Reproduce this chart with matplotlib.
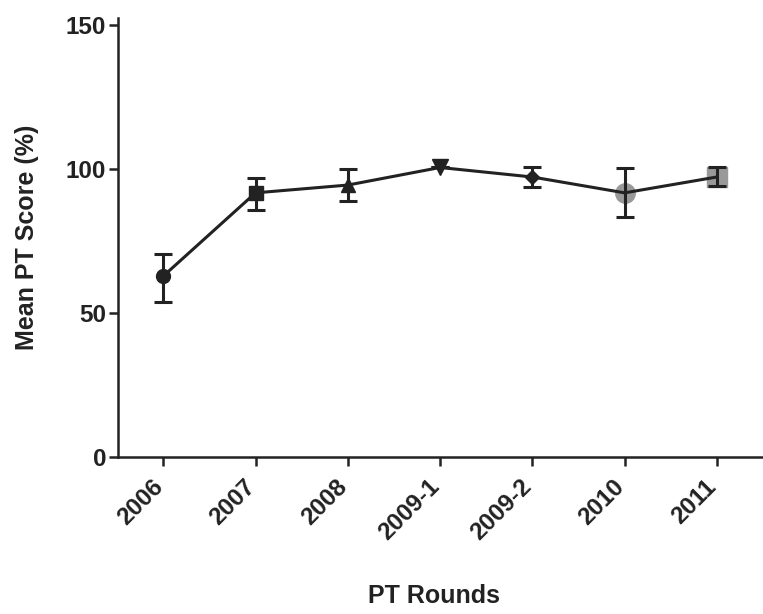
import numpy as np
import matplotlib
matplotlib.use('Agg')
import matplotlib.pyplot as plt
import matplotlib.transforms as mtransforms

plt.rcParams['font.family'] = ['Liberation Sans', 'DejaVu Sans']

# data
rounds = ['2006', '2007', '2008', '2009-1', '2009-2', '2010', '2011']
mean_score = [62.8, 91.7, 94.4, 100.5, 97.2, 91.7, 97.2]
err_upper = [70.5, 96.9, 100.0, 100.5, 100.7, 100.3, 100.7]
err_lower = [53.8, 85.8, 88.9, 100.5, 93.8, 83.3, 94.1]
markers = ['o', 's', '^', 'v', 'D', 'o', 's']
marker_colors = ['#222222', '#222222', '#222222', '#222222', '#222222', '#999999', '#999999']
marker_sizes = [10, 10, 10, 11, 7, 14, 14]

ink = '#222222'

fig = plt.figure(figsize=(7.63, 6.14), dpi=100)
ax = fig.add_axes([0.1547, 0.2557, 0.8453, 0.715])

x = np.arange(len(rounds))
mean_arr = np.array(mean_score)
yerr = [mean_arr - np.array(err_lower), np.array(err_upper) - mean_arr]

# markers behind the line and error bars
for i in range(len(rounds)):
    ax.plot(x[i], mean_score[i], marker=markers[i], color=marker_colors[i],
            markersize=marker_sizes[i], linestyle='none', zorder=2)

ax.errorbar(x, mean_score, yerr=yerr, color=ink, linewidth=2.2, elinewidth=2.2,
            capsize=6.8, capthick=2.2, zorder=3)

ax.set_xlim(-0.49, 6.5)
ax.set_ylim(0, 152.4)
ax.set_yticks([0, 50, 100, 150])
ax.set_xticks(x)
ax.set_xticklabels(rounds, rotation=45, ha='right', rotation_mode='anchor')

for side in ['top', 'right']:
    ax.spines[side].set_visible(False)
for side in ['left', 'bottom']:
    ax.spines[side].set_linewidth(1.8)
    ax.spines[side].set_color(ink)

ax.tick_params(axis='both', direction='out', length=6.5, width=1.8, color=ink,
               labelsize=17.5, labelcolor=ink, pad=2)
for lbl in ax.get_xticklabels() + ax.get_yticklabels():
    lbl.set_fontweight('bold')

# nudge rotated labels so they sit down-left of the ticks
shift = mtransforms.ScaledTranslation(-0.12, -0.06, fig.dpi_scale_trans)
for lbl in ax.get_xticklabels():
    lbl.set_transform(lbl.get_transform() + shift)

ax.set_ylabel('Mean PT Score (%)', fontsize=18, fontweight='bold', color=ink, labelpad=19)
fig.text(0.569, 0.029, 'PT Rounds', fontsize=18, fontweight='bold', color=ink,
         ha='center', va='center')

fig.savefig('out.png', dpi=100)
